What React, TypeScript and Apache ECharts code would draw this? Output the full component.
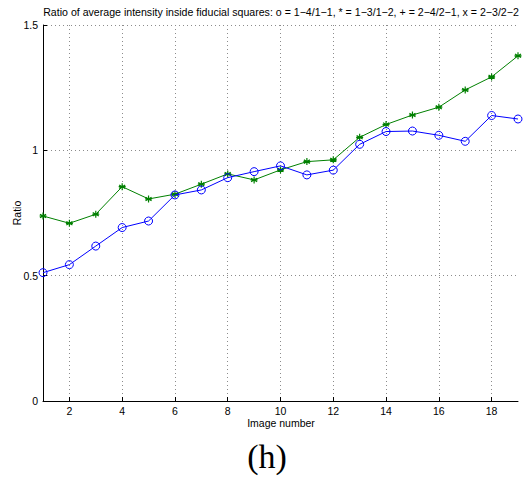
import React, { useEffect, useRef } from "react";
import * as echarts from "echarts";

const imageNumbers = [1, 2, 3, 4, 5, 6, 7, 8, 9, 10, 11, 12, 13, 14, 15, 16, 17, 18, 19];
const ratioCircle = [0.512, 0.544, 0.618, 0.692, 0.718, 0.822, 0.842, 0.891, 0.915, 0.938, 0.902, 0.921, 1.024, 1.075, 1.077, 1.06, 1.036, 1.139, 1.125];
const ratioStar = [0.738, 0.709, 0.745, 0.855, 0.806, 0.825, 0.865, 0.906, 0.882, 0.922, 0.955, 0.962, 1.052, 1.103, 1.141, 1.172, 1.241, 1.293, 1.377];
const xTicks = [2, 4, 6, 8, 10, 12, 14, 16, 18];
const titleText = "Ratio of average intensity inside fiducial squares: o = 1\u22124/1\u22121, * = 1\u22123/1\u22122, + = 2\u22124/2\u22121, x = 2\u22123/2\u22122";

const FONT = "'Liberation Sans', Arial, Helvetica, sans-serif";
const asterisk = "path://M0,-10L0,10M-8.66,-5L8.66,5M-8.66,5L8.66,-5M-10,0L10,0";

export default function App() {
  const ref = useRef<HTMLDivElement>(null);
  useEffect(() => {
    document.body.style.margin = "0";
    const chart = echarts.init(ref.current!, null, { renderer: "svg" });
    const gridStyle = { type: [1, 3] as any, color: "#8c8c8c", width: 1 };
    chart.setOption({
      animation: false,
      backgroundColor: "#ffffff",
      textStyle: { fontFamily: FONT },
      grid: { left: 43, right: 7, top: 25, bottom: 79, containLabel: false, outerBoundsMode: "none" },
      graphic: [
        {
          type: "text",
          x: 281,
          y: 12,
          style: { text: titleText, fontSize: 10.6, fontFamily: FONT, fill: "#000", align: "center", verticalAlign: "middle" },
        },
        {
          type: "text",
          x: 17,
          y: 213,
          rotation: Math.PI / 2,
          style: { text: "Ratio", fontSize: 10.5, fontFamily: FONT, fill: "#000", align: "center", verticalAlign: "middle" },
        },
        {
          type: "text",
          x: 281,
          y: 423,
          style: { text: "Image number", fontSize: 10.5, fontFamily: FONT, fill: "#000", align: "center", verticalAlign: "middle" },
        },
        {
          type: "text",
          x: 267,
          y: 456,
          style: { text: "(h)", fontSize: 34, fontFamily: "'Liberation Serif', 'DejaVu Serif', serif", fill: "#000", align: "center", verticalAlign: "middle" },
        },
      ],
      xAxis: {
        type: "value",
        min: 1,
        max: 19,
        axisLine: { lineStyle: { color: "#000", width: 1 } },
        axisTick: { inside: true, length: 4, customValues: xTicks, lineStyle: { color: "#000" } },
        axisLabel: { customValues: xTicks, fontSize: 10.5, color: "#000", margin: 4, fontFamily: FONT },
        splitLine: { show: true, lineStyle: gridStyle },
      },
      yAxis: {
        type: "value",
        min: 0,
        max: 1.5,
        interval: 0.5,
        axisLine: { show: true, lineStyle: { color: "#000", width: 1 } },
        axisTick: { show: true, inside: true, length: 4, lineStyle: { color: "#000" } },
        axisLabel: { fontSize: 10.5, color: "#000", margin: 5, fontFamily: FONT, formatter: (v: number) => String(v) },
        splitLine: { show: true, lineStyle: gridStyle },
      },
      series: [
        {
          type: "line",
          data: imageNumbers.map((x, i) => [x, ratioCircle[i]]),
          symbol: "circle",
          symbolSize: 8,
          showAllSymbol: true,
          lineStyle: { color: "#0000ff", width: 1 },
          itemStyle: { color: "transparent", borderColor: "#0000ff", borderWidth: 1 },
          z: 3,
        },
        {
          type: "line",
          data: imageNumbers.map((x, i) => [x, ratioStar[i]]),
          symbol: asterisk,
          symbolSize: 7,
          showAllSymbol: true,
          lineStyle: { color: "#008000", width: 1 },
          itemStyle: { color: "#008000", borderColor: "#008000", borderWidth: 1.2 },
          z: 2,
        },
      ],
    });
    return () => chart.dispose();
  }, []);
  return <div ref={ref} style={{ width: 525, height: 480, position: "absolute", left: 0, top: 0 }} />;
}
